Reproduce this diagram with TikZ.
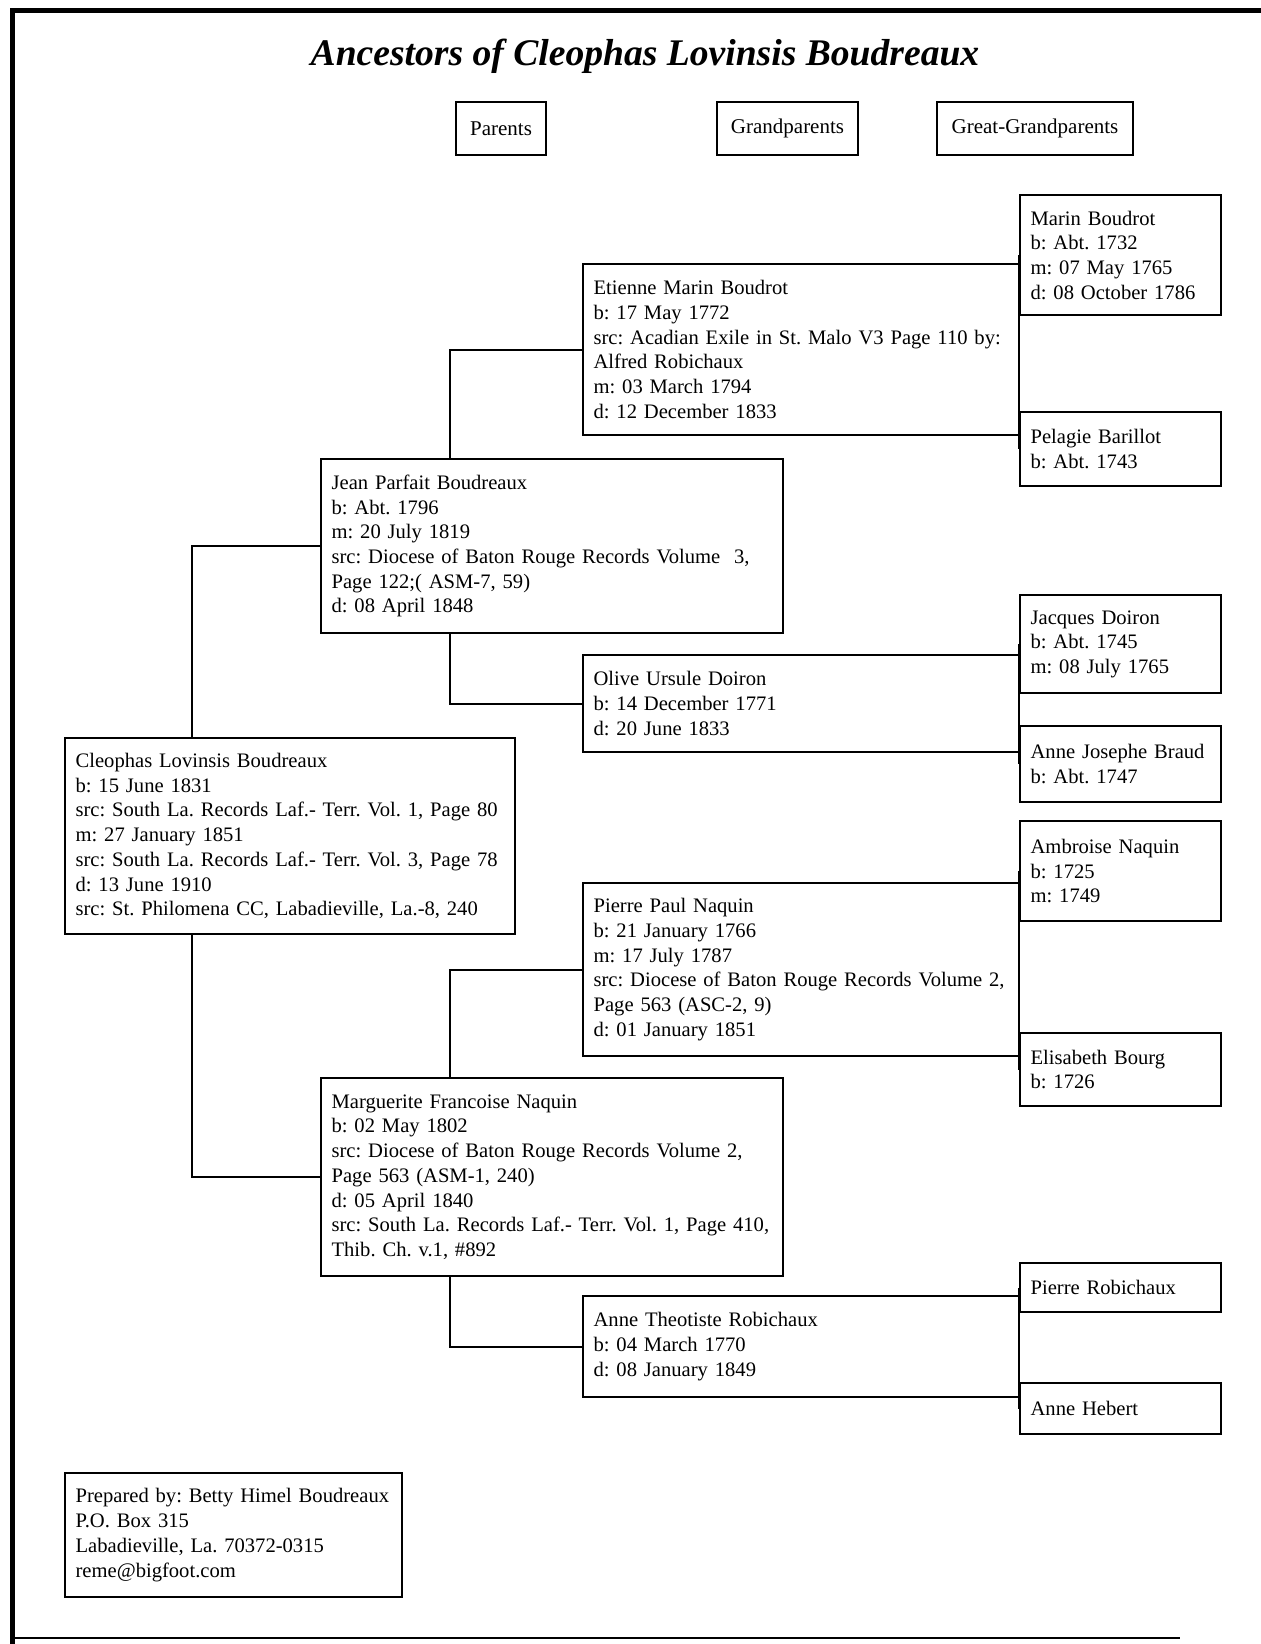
\documentclass[tikz,border=0pt]{standalone}
\usepackage{fontspec}
\setmainfont{Liberation Serif}
\frenchspacing
\begin{document}
\begin{tikzpicture}[x=0.5pt,y=-0.5pt,line width=1.1pt,
    box/.style={draw,anchor=north west,inner xsep=5.25pt,inner ysep=0pt,align=left,
        font=\fontsize{10.3}{12.35}\selectfont},
    head/.style={draw,minimum height=26.5pt,inner xsep=0pt,
        font=\fontsize{10.5}{12.35}\selectfont}]
    \tikzstyle{greatbox}=[box,text width=90pt]
    \tikzstyle{grandbox}=[box,text width=207.5pt]
    \tikzstyle{parentbox}=[box,text width=220.5pt]
    \tikzstyle{selfbox}=[box,text width=214.5pt]

    \useasboundingbox (0,0) rectangle (1261,1644);
    \draw[line width=2.5pt] (12,1644) -- (12,10) -- (1261,10);
    \draw[line width=1pt] (12,1638) -- (1180,1638);

    \node[font=\fontsize{18.8}{22}\selectfont\bfseries\itshape,anchor=base] (title) at (645,65) {Ancestors of Cleophas Lovinsis Boudreaux};

    \node[head,minimum width=45pt] (hpar) at (501,128.5) {Parents};
    \node[head,minimum width=70.5pt] (hgrand) at (787.5,128.5) {Grandparents};
    \node[head,minimum width=98pt] (hgreat) at (1035,128.5) {Great-Grandparents};

    \coordinate (gen1) at (192,0);
    \coordinate (gen2) at (450,0);

    \node[greatbox,minimum height=60pt] (marin) at (1019,194) {Marin Boudrot\\b: Abt. 1732\\m: 07 May 1765\\d: 08 October 1786};
    \node[grandbox,minimum height=85.5pt] (etienne) at (582,263) {Etienne Marin Boudrot\\b: 17 May 1772\\src: Acadian Exile in St. Malo V3 Page 110~by:\\Alfred Robichaux\\m: 03 March 1794\\d: 12 December 1833};
    \node[greatbox,minimum height=37pt] (pelagie) at (1019,411) {Pelagie Barillot\\b: Abt. 1743};
    \node[parentbox,minimum height=87pt] (jean) at (320,458) {Jean Parfait Boudreaux\\b: Abt. 1796\\m: 20 July 1819\\src: Diocese of Baton Rouge Records Volume~ 3,\\Page 122;( ASM-7, 59)\\d: 08 April 1848};
    \node[greatbox,minimum height=49pt] (jacques) at (1019,594) {Jacques Doiron\\b: Abt. 1745\\m: 08 July 1765};
    \node[grandbox,minimum height=48.5pt] (olive) at (582,654) {Olive Ursule Doiron\\b: 14 December 1771\\d: 20 June 1833};
    \node[greatbox,minimum height=38pt] (braud) at (1019,725) {Anne Josephe Braud\\b: Abt. 1747};
    \node[selfbox,minimum height=98pt] (cleophas) at (64,737) {Cleophas Lovinsis Boudreaux\\b: 15 June 1831\\src: South La. Records Laf.- Terr. Vol. 1, Page~80\\m: 27 January 1851\\src: South La. Records Laf.- Terr. Vol. 3, Page~78\\d: 13 June 1910\\src: St. Philomena CC, Labadieville, La.-8, 240};
    \node[greatbox,minimum height=50pt] (ambroise) at (1019,820) {Ambroise Naquin\\b: 1725\\m: 1749};
    \node[grandbox,minimum height=86.5pt] (pierrepaul) at (582,882) {Pierre Paul Naquin\\b: 21 January 1766\\m: 17 July 1787\\src: Diocese of Baton Rouge Records Volume~2,\\Page 563 (ASC-2, 9)\\d: 01 January 1851};
    \node[greatbox,minimum height=36.5pt] (elisabeth) at (1019,1032) {Elisabeth Bourg\\b: 1726};
    \node[parentbox,minimum height=99pt] (marguerite) at (320,1077) {Marguerite Francoise Naquin\\b: 02 May 1802\\src: Diocese of Baton Rouge Records Volume 2,\\Page 563 (ASM-1, 240)\\d: 05 April 1840\\src: South La. Records Laf.- Terr. Vol. 1, Page~410,\\Thib. Ch. v.1, \#892};
    \node[greatbox,minimum height=24.5pt] (probichaux) at (1019,1262) {Pierre Robichaux};
    \node[grandbox,minimum height=50.5pt] (theotiste) at (582,1295) {Anne Theotiste Robichaux\\b: 04 March 1770\\d: 08 January 1849};
    \node[greatbox,minimum height=25.5pt] (hebert) at (1019,1382) {Anne Hebert};

    \node[box,text width=158pt,minimum height=62pt] (prepared) at (64,1472) {Prepared by: Betty Himel~Boudreaux\\P.O. Box 315\\Labadieville, La. 70372-0315\\reme@bigfoot.com};

    % parents of Cleophas
    \draw (jean.west) -| (gen1 |- cleophas.north);
    \draw (marguerite.west) -| (gen1 |- cleophas.south);
    % grandparents
    \draw (etienne.west) -| (gen2 |- jean.north);
    \draw (olive.west) -| (gen2 |- jean.south);
    \draw (pierrepaul.west) -| (gen2 |- marguerite.north);
    \draw (theotiste.west) -| (gen2 |- marguerite.south);
    % great-grandparents
    \draw (marin.west) -- (pelagie.west);
    \draw (jacques.west) -- (braud.west);
    \draw (ambroise.west) -- (elisabeth.west);
    \draw (probichaux.west) -- (hebert.west);
\end{tikzpicture}
\end{document}
